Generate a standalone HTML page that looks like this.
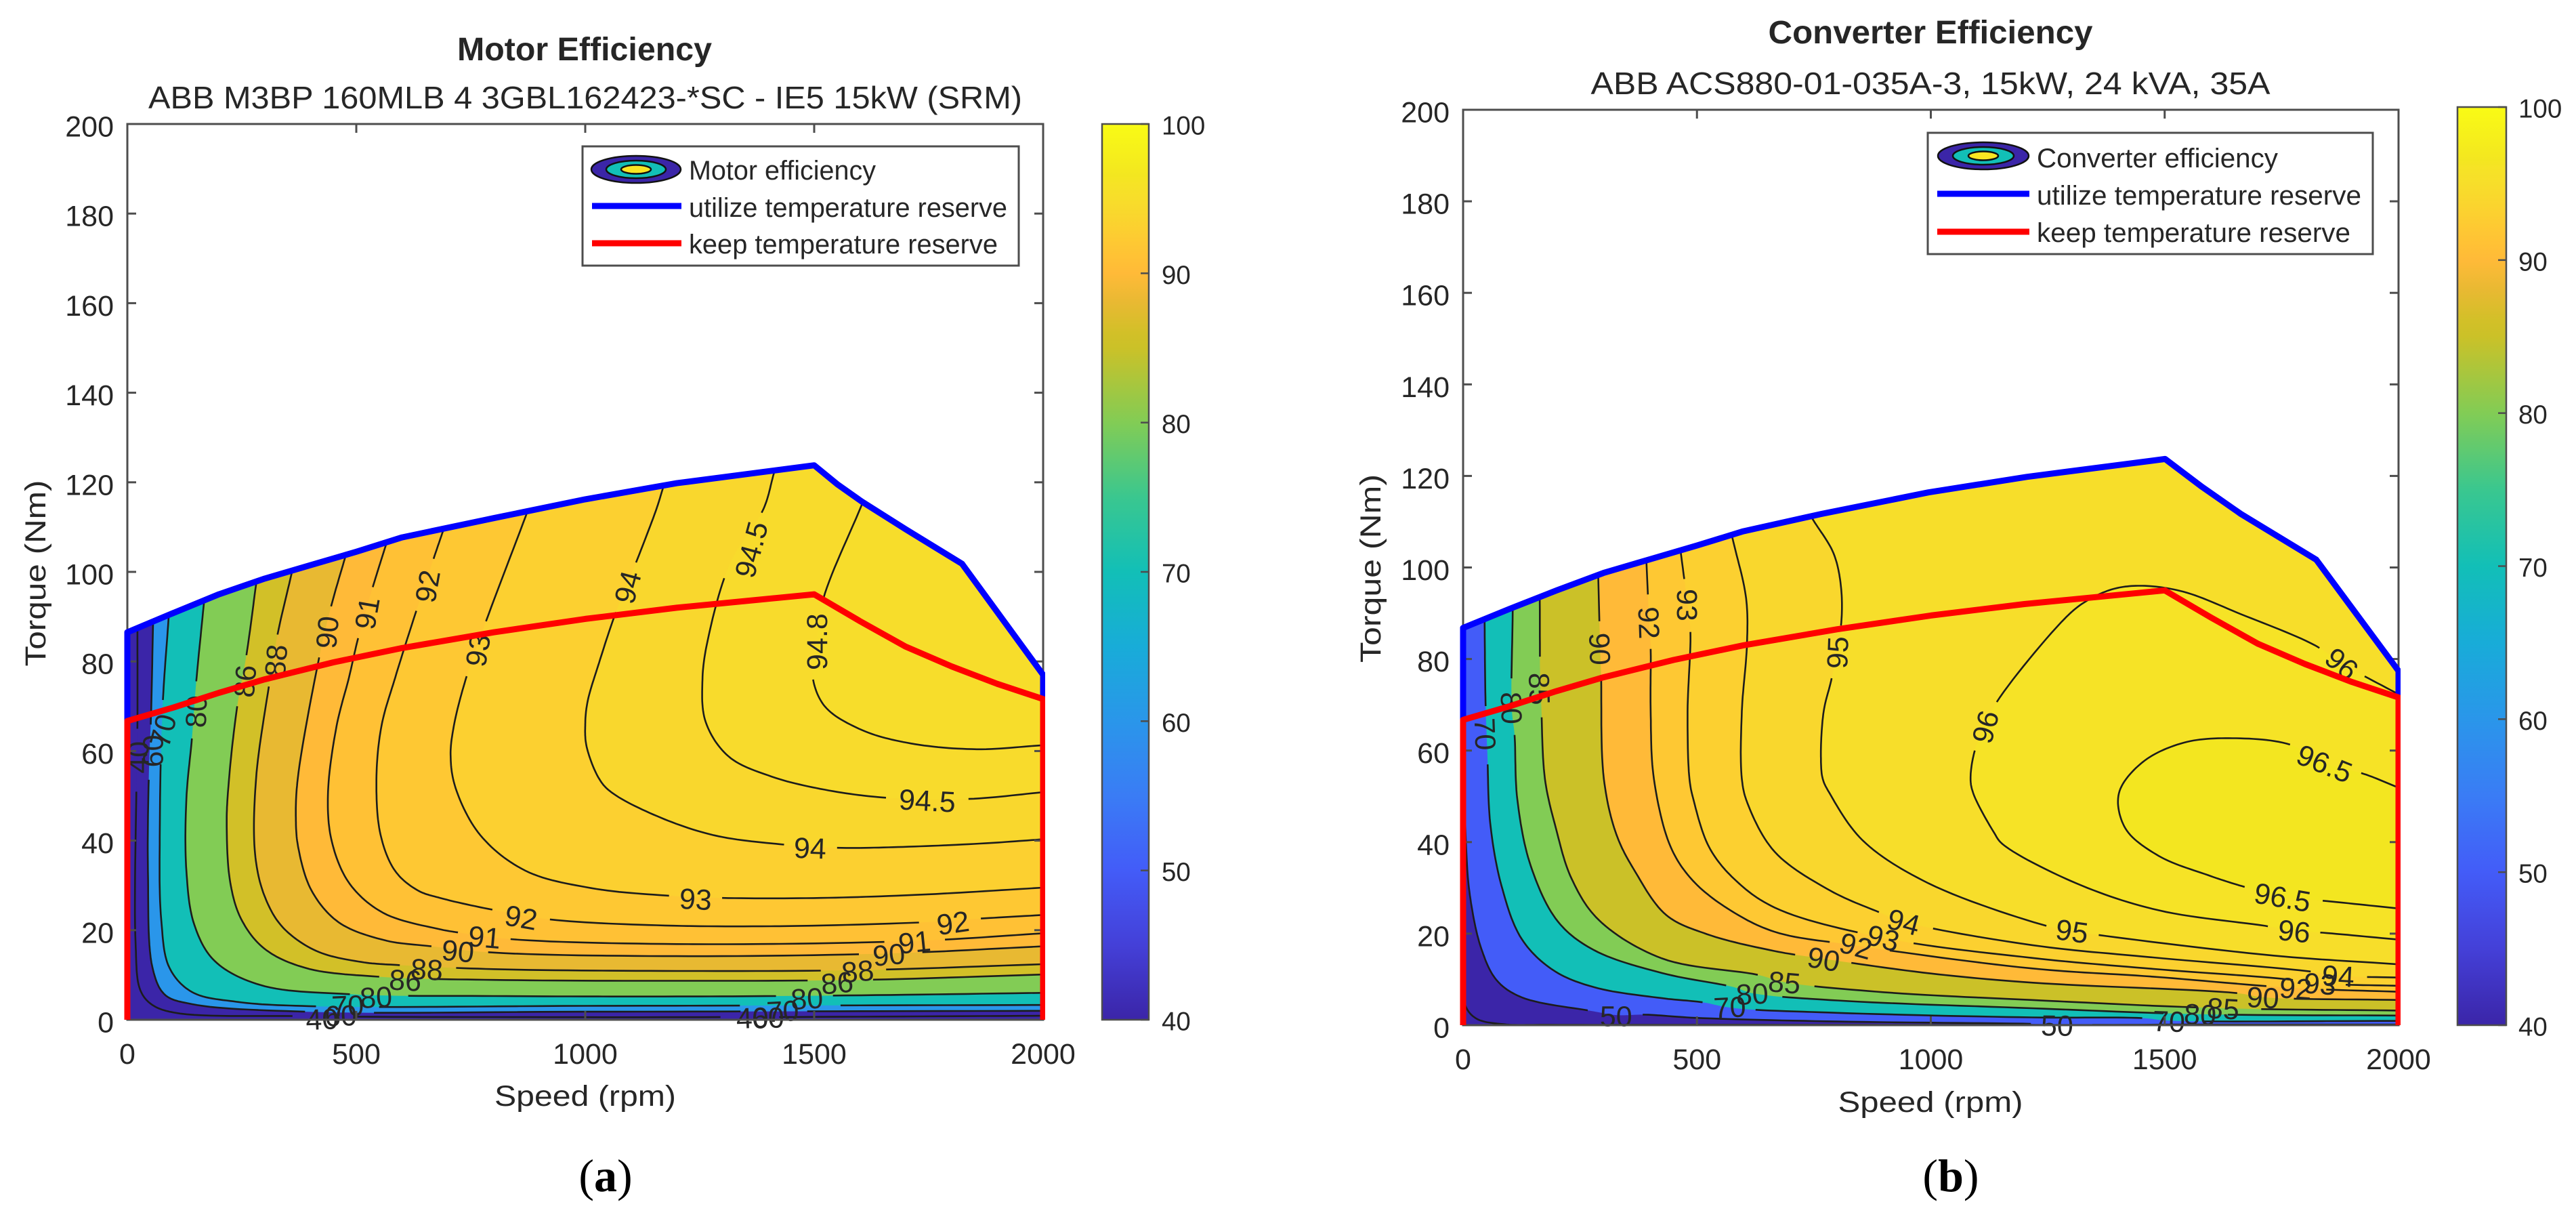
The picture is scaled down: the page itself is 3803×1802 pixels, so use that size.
<!DOCTYPE html>
<html lang="en">
<head>
<meta charset="utf-8">
<title>Motor and Converter Efficiency</title>
<style>
html,body{margin:0;padding:0;background:#fff;}
svg{display:block;}
text{font-family:"Liberation Sans",sans-serif;fill:#262626;}
.cap{font-family:"Liberation Serif",serif;fill:#000;}
</style>
</head>
<body>
<svg id="figure" xmlns="http://www.w3.org/2000/svg" width="3803" height="1802" viewBox="0 0 3803 1802">
  <rect x="0" y="0" width="3803" height="1802" fill="#fff"/>
  <defs id="defs"></defs>

  <text x="863" y="89" text-anchor="middle" font-size="48" font-weight="bold" fill="#000" textLength="376" lengthAdjust="spacingAndGlyphs">Motor Efficiency</text>
  <text x="864" y="160" text-anchor="middle" font-size="46" textLength="1290" lengthAdjust="spacingAndGlyphs">ABB M3BP 160MLB 4 3GBL162423-*SC - IE5 15kW (SRM)</text>
  <text x="2850" y="64" text-anchor="middle" font-size="48" font-weight="bold" fill="#000" textLength="479" lengthAdjust="spacingAndGlyphs">Converter Efficiency</text>
  <text x="2850" y="139" text-anchor="middle" font-size="46" textLength="1003" lengthAdjust="spacingAndGlyphs">ABB ACS880-01-035A-3, 15kW, 24 kVA, 35A</text>

  <g id="motor-chart"></g>
  <g id="converter-chart"></g>

  <text x="864" y="1632" text-anchor="middle" font-size="43" textLength="268" lengthAdjust="spacingAndGlyphs">Speed (rpm)</text>
  <text x="2850" y="1641" text-anchor="middle" font-size="43" textLength="273" lengthAdjust="spacingAndGlyphs">Speed (rpm)</text>
  <text transform="translate(67,846) rotate(-90)" text-anchor="middle" font-size="43" textLength="275" lengthAdjust="spacingAndGlyphs">Torque (Nm)</text>
  <text transform="translate(2038,839) rotate(-90)" text-anchor="middle" font-size="43" textLength="278" lengthAdjust="spacingAndGlyphs">Torque (Nm)</text>

  <g>
    <rect x="860" y="216" width="644" height="176" fill="#fff" stroke="#4d4d4d" stroke-width="3"/>
    <ellipse cx="939" cy="250" rx="66" ry="20" fill="#3b25a8" stroke="#111" stroke-width="2.5"/>
    <ellipse cx="939" cy="250" rx="44" ry="13" fill="#12bfb7" stroke="#111" stroke-width="2.5"/>
    <ellipse cx="939" cy="250" rx="22" ry="6.5" fill="#f9e622" stroke="#111" stroke-width="2.5"/>
    <text x="1017" y="265" font-size="40" textLength="276" lengthAdjust="spacingAndGlyphs">Motor efficiency</text>
    <line x1="874" y1="304" x2="1006" y2="304" stroke="#0000ff" stroke-width="9"/>
    <text x="1017" y="320" font-size="40" textLength="470" lengthAdjust="spacingAndGlyphs">utilize temperature reserve</text>
    <line x1="874" y1="359" x2="1006" y2="359" stroke="#ff0000" stroke-width="9"/>
    <text x="1017" y="374" font-size="40" textLength="456" lengthAdjust="spacingAndGlyphs">keep temperature reserve</text>
  </g>

  <g>
    <rect x="2846" y="196" width="657" height="179" fill="#fff" stroke="#4d4d4d" stroke-width="3"/>
    <ellipse cx="2928" cy="230" rx="67" ry="20" fill="#3b25a8" stroke="#111" stroke-width="2.5"/>
    <ellipse cx="2928" cy="230" rx="45" ry="13" fill="#12bfb7" stroke="#111" stroke-width="2.5"/>
    <ellipse cx="2928" cy="230" rx="22" ry="6.5" fill="#f9e622" stroke="#111" stroke-width="2.5"/>
    <text x="3007" y="247" font-size="40" textLength="356" lengthAdjust="spacingAndGlyphs">Converter efficiency</text>
    <line x1="2860" y1="286" x2="2996" y2="286" stroke="#0000ff" stroke-width="9"/>
    <text x="3007" y="302" font-size="40" textLength="479" lengthAdjust="spacingAndGlyphs">utilize temperature reserve</text>
    <line x1="2860" y1="342" x2="2996" y2="342" stroke="#ff0000" stroke-width="9"/>
    <text x="3007" y="357" font-size="40" textLength="463" lengthAdjust="spacingAndGlyphs">keep temperature reserve</text>
  </g>

  <text class="cap" x="894" y="1758" text-anchor="middle" font-size="68">(<tspan font-weight="bold">a</tspan>)</text>
  <text class="cap" x="2880" y="1758" text-anchor="middle" font-size="68">(<tspan font-weight="bold">b</tspan>)</text>
</svg>

<script>
// ---------- shared axis tick values ----------
const xTickValues = [0, 500, 1000, 1500, 2000];
const yTickValues = [0, 20, 40, 60, 80, 100, 120, 140, 160, 180, 200];
const colorbarTickValues = [40, 50, 60, 70, 80, 90, 100];

// ---------- colour scale ----------
const colorStopValues = [40, 45, 50, 55, 60, 65, 70, 75, 80, 85, 86, 88, 90, 91, 92, 93, 94, 95, 96, 96.5, 100];
const colorStopHexes = ['#3b25a8', '#4440d8', '#435cf8', '#3a7cf5', '#2a96ea', '#18acd8', '#12bfb7', '#3ac78f', '#82cc55', '#cbc128', '#d2c028', '#e8b932', '#ffba38', '#ffc135', '#fec833', '#fcd030', '#f9d72d', '#f7de2a', '#f6e326', '#f3e620', '#f9fb15'];

// ---------- motor efficiency data ----------
const motorLevels = [40, 60, 70, 80, 86, 88, 90, 91, 92, 93, 94, 94.5, 94.8];
const motorContourSpeeds = [
  [22, 22, 20, 18, 28, 52, 102, 383, 800, 1380, 2000],
  [56, 52, 47, 45, 55, 82, 141, 388, 1000, 2000],
  [90, 77, 71, 74, 92, 141, 240, 412, 1000, 2000],
  [166.5, 149.5, 141, 129, 129, 146, 190, 289, 486, 800, 1200, 1541, 2000],
  [281, 260, 240, 222, 217, 225, 249, 299, 388, 550, 800, 1200, 1600, 2000],
  [358, 328, 309, 281, 279, 299, 338, 412, 511, 595, 800, 1200, 1600, 2000],
  [475, 445, 419, 372, 368, 373, 402, 461, 560, 664, 800, 1200, 1660, 2000],
  [564, 536, 504, 484, 457, 438, 447, 486, 560, 683, 722, 837, 1200, 1720, 2000],
  [689, 667, 631, 585, 555, 544, 553, 585, 634, 683, 806, 923, 1156, 1425, 1747, 1864, 2000],
  [871, 778, 741, 713, 706, 717, 771, 869, 1013, 1183, 1299, 1514, 1747, 2000],
  [1170, 1156, 1111, 1067, 1028, 1005, 1000, 1003, 1031, 1057, 1156, 1281, 1425, 1550, 1694, 1873, 2000],
  [1412, 1389, 1317, 1268, 1256, 1263, 1313, 1407, 1532, 1667, 1837, 2000],
  [1604, 1520, 1505, 1496, 1523, 1604, 1711, 1855, 2000]
];
const motorContourTorques = [
  [88, 66, 53, 17, 6.7, 3.5, 1.6, 0.8, 0.6, 0.6, 0.9],
  [88, 69, 55, 33, 11.6, 5.6, 3.5, 1.8, 1.8, 2],
  [89.5, 69.9, 44, 22.4, 11.6, 6.2, 4, 3, 3.1, 3.3],
  [92.3, 74.4, 62.8, 49.4, 33.2, 21.3, 13.2, 7.8, 5.7, 5.3, 5.2, 5.4, 6],
  [97.1, 81.4, 70, 53.7, 44, 30.5, 22.4, 15.9, 11.6, 9.6, 8.9, 8.7, 8.9, 10.1],
  [99.3, 86, 74.4, 53.7, 37, 27.8, 20.8, 15.4, 12.9, 12.2, 11.3, 10.9, 11.1, 12.4],
  [103, 92.3, 80.9, 53.7, 45, 38.6, 28.9, 21.8, 17.8, 16.4, 15, 14.2, 14.8, 16.4],
  [105.8, 96.6, 85.2, 76.4, 65.6, 50, 39.6, 30.3, 23.8, 20.2, 19.5, 18, 16.9, 17.6, 19.3],
  [109, 102.4, 91.3, 76.4, 65.6, 53.7, 41.3, 33.2, 28.9, 27.2, 24.4, 22.4, 21.1, 20.9, 21.8, 22.6, 23.4],
  [112.7, 87.5, 76.7, 65.6, 58.8, 51.7, 41.2, 33.3, 29.4, 27.7, 27.2, 27.2, 28, 29.5],
  [118.8, 114.2, 102.1, 91, 79, 71, 66, 61, 53.7, 50.8, 45.5, 41.2, 39.2, 38.4, 38.6, 39.4, 40.3],
  [122, 114, 102.1, 85, 76, 66.5, 58.8, 54.3, 51.2, 49.5, 49.3, 50.8],
  [115, 94, 84.4, 77, 70, 64.7, 61.7, 60.4, 61.3]
];
const motorLabelValues = [40, 60, 70, 80, 86, 88, 90, 91, 92, 93, 94, 94.5, 94.8,
  40, 60, 70, 80, 86, 88, 90, 91, 92, 93, 94, 94.5,
  40, 60, 70, 80, 86, 88, 90, 91, 92];
const motorLabelSpeeds = [23, 55, 77, 149.5, 256, 324, 436, 523, 655, 765, 1092, 1362, 1505,
  425, 466, 481, 543, 607, 654, 722, 780, 860, 1241, 1491, 1747,
  1365, 1399, 1431, 1484, 1550, 1595, 1663, 1719, 1803];
const motorLabelTorques = [58.6, 60, 64.6, 68.8, 75.6, 80.2, 86.5, 90.8, 96.8, 82.5, 96.6, 105, 84.4,
  0.2, 1, 3.2, 5.1, 8.9, 11.3, 15.4, 18.5, 22.9, 27, 38.4, 49,
  0.5, 0.5, 2, 4.8, 8.3, 10.9, 14.6, 17.4, 21.7];
const motorLabelAngles = [-90, -90, -75, -88, -85, -85, -85, -80, -80, -80, -75, -75, -90,
  -2, -2, -2, -3, 3, 3, 5, 5, 10, 3, 2, 3,
  -2, -2, -3, -3, -5, -5, -5, -6, -8];
const motorUtilizeSpeeds = [0, 0, 100, 200, 300, 400, 500, 600, 800, 1000, 1200, 1500, 1550, 1604, 1700, 1823, 2000, 2000];
const motorUtilizeTorques = [66.7, 86.5, 90.8, 95, 98.5, 101.5, 104.5, 107.7, 112, 116.2, 119.8, 123.8, 119.6, 115.7, 109.5, 101.8, 77, 71.5];
const motorKeepSpeeds = [0, 0, 100, 200, 300, 450, 600, 800, 1000, 1200, 1500, 1600, 1700, 1800, 1900, 2000, 2000];
const motorKeepTorques = [0, 66.7, 69.7, 73, 76, 79.8, 83, 86.5, 89.5, 92, 95, 89, 83.3, 78.9, 75, 71.6, 0];

// ---------- converter efficiency data ----------
const converterLevels = [40, 50, 70, 80, 85, 90, 92, 93, 94, 95, 96, 96.5];
const converterContourSpeeds = [
  [1, 6, 29, 87, 183, 600, 1200, 2000],
  [1, 6, 14.5, 39, 72, 125, 275, 328, 389, 497, 800, 1214, 1272, 1600, 2000],
  [46, 48, 52, 58, 82, 125.5, 193, 280, 425, 512, 573, 800, 1216, 1452, 1509, 2000],
  [106, 104, 110, 116, 145, 203, 280, 425, 579, 618, 800, 1216, 1576, 2000],
  [164, 165, 167, 175, 198, 232, 290, 425, 630, 687, 900, 1216, 1625, 2000],
  [289, 293, 295, 301, 328, 367, 434, 521, 666, 771, 1000, 1216, 1655, 1710, 2000],
  [392, 398, 401, 401, 408, 444, 492, 570, 666, 840, 1216, 1475, 1780, 2000],
  [467, 480, 486, 480, 484, 492, 526, 579, 666, 898, 1216, 1475, 1755, 1832, 2000],
  [576, 605, 607, 596, 596, 608, 666, 785, 889, 942, 1216, 1475, 1806, 1871, 2000],
  [749, 792, 808, 808, 788, 771, 765, 769, 784, 854, 995, 1247, 1302, 1359, 1733, 2000],
  [2000, 1879, 1821, 1663, 1540, 1452, 1390, 1330, 1286, 1141, 1116, 1094, 1085, 1091, 1135, 1153, 1311, 1487, 1715, 1777, 1838, 2000],
  [2000, 1926, 1842, 1768, 1645, 1540, 1452, 1402, 1416, 1487, 1592, 1671, 1750, 1838, 2000]
];
const converterContourTorques = [
  [9, 4, 1.4, 0.2, 0.1, 0.1, 0.05, 0],
  [66, 40, 28.4, 16.7, 9.8, 6.1, 3.1, 2.2, 2.3, 1.6, 0.8, 0.3, 0.1, 0.15, 0.15],
  [87.6, 70.6, 59, 44.2, 30.5, 18.8, 12, 8.3, 5.9, 5, 3.8, 2.7, 1.7, 1.55, 1, 0.93],
  [90, 69.3, 63.4, 49.3, 34.7, 22.6, 16.4, 11.4, 8.3, 7, 5.4, 3.7, 2.4, 2.1],
  [92.3, 73.5, 70, 53.8, 43.2, 32, 23, 14.6, 11, 9.4, 7.2, 5.5, 3.7, 3.2],
  [97.5, 82.2, 76.5, 53.8, 41.6, 33.7, 24.1, 19.9, 16.2, 14.5, 11.3, 9.3, 7, 6.1, 5.5],
  [101, 87.9, 82.2, 68.6, 53.8, 38.9, 31.5, 25.2, 20.4, 17.4, 12.4, 10.6, 8.1, 7.3],
  [102, 91.8, 85.9, 68.6, 53.8, 49.5, 38.9, 32, 25.7, 19.1, 14.7, 12.3, 10.1, 9.1, 8.6],
  [106.4, 93.3, 83.4, 68.6, 53.8, 48.5, 37.9, 29.4, 24.7, 22.6, 17.5, 14.8, 11.8, 10.8, 10.4],
  [110.3, 103.1, 95.7, 87.3, 75.8, 68.6, 58.7, 53.8, 50.6, 40.4, 31, 21.7, 20.6, 19.7, 15.2, 13.3],
  [72.3, 79, 83, 89.8, 94.7, 96, 95.3, 92.5, 88.8, 70.6, 65.2, 60, 53.8, 50.6, 42.1, 39.6, 31, 25.1, 21.7, 20.6, 20.2, 18.7],
  [51.9, 54.9, 57.2, 61.3, 62.7, 61.7, 57.4, 50.6, 43, 37, 32.8, 30.2, 28, 27.2, 25.5]
];
const converterLabelValues = [70, 80, 85, 90, 92, 93, 95, 96, 50, 70, 80, 85, 90, 92, 93, 94,
  96.5, 96.5, 96, 96, 95, 94, 93, 92, 90, 85, 80, 70, 50];
const converterLabelSpeeds = [48, 104, 164, 293, 398, 480, 800, 1116, 327, 570, 618, 687, 771, 840, 898, 942,
  1752, 1842, 1777, 1879, 1302, 1871, 1832, 1780, 1710, 1625, 1576, 1509, 1270];
const converterLabelTorques = [63.6, 69.3, 73.5, 82.2, 87.9, 91.8, 81.4, 65.2, 2.1, 4, 6.9, 9.4, 14.5, 17.4, 19.1, 22.6,
  28, 57.2, 20.6, 79, 20.6, 10.8, 9.1, 8.1, 6.1, 3.7, 2.4, 0.9, 0];
const converterLabelAngles = [88, 88, 88, 88, 88, 90, -88, -75, 0, -3, -3, 5, 10, 15, 15, 15,
  10, 22, 6, 40, 8, 3, 4, 4, 3, 3, 3, 2, 1];
const converterUtilizeSpeeds = [0, 0, 98, 200, 300, 400, 500, 599, 766, 995, 1205, 1501, 1580, 1663, 1824, 2000, 2000];
const converterUtilizeTorques = [66.7, 86.8, 90.9, 95, 98.8, 101.8, 104.8, 107.9, 111.7, 116.4, 119.8, 123.7, 117.6, 111.7, 101.7, 77.4, 71.5];
const converterKeepSpeeds = [0, 0, 100, 200, 300, 450, 600, 800, 1000, 1200, 1500, 1600, 1700, 1800, 1900, 2000, 2000];
const converterKeepTorques = [0, 66.7, 69.7, 73, 76, 79.8, 83, 86.5, 89.5, 92, 95, 89, 83.3, 78.9, 75, 71.6, 0];

// ---------- rendering ----------
const SVG_NS = 'http://www.w3.org/2000/svg';
const defsEl = document.getElementById('defs');

function mk(tag, attrs, parent) {
  const e = document.createElementNS(SVG_NS, tag);
  for (const k in attrs) e.setAttribute(k, attrs[k]);
  parent.appendChild(e);
  return e;
}
function hexRgb(h) {
  return [parseInt(h.substr(1, 2), 16), parseInt(h.substr(3, 2), 16), parseInt(h.substr(5, 2), 16)];
}
function colorAt(v) {
  if (v <= colorStopValues[0]) return colorStopHexes[0];
  for (let i = 1; i < colorStopValues.length; i++) {
    if (v <= colorStopValues[i]) {
      const t = (v - colorStopValues[i - 1]) / (colorStopValues[i] - colorStopValues[i - 1]);
      const a = hexRgb(colorStopHexes[i - 1]);
      const b = hexRgb(colorStopHexes[i]);
      return 'rgb(' + a.map((c, j) => Math.round(c + (b[j] - c) * t)).join(',') + ')';
    }
  }
  return colorStopHexes[colorStopHexes.length - 1];
}
// centripetal Catmull-Rom through pixel-space points
function smooth(pts) {
  if (pts.length < 3) return pts.slice();
  const n = pts.length;
  const P = [[2 * pts[0][0] - pts[1][0], 2 * pts[0][1] - pts[1][1]]].concat(pts, [[2 * pts[n - 1][0] - pts[n - 2][0], 2 * pts[n - 1][1] - pts[n - 2][1]]]);
  const out = [];
  const step = (a, b) => Math.max(1e-3, Math.sqrt(Math.hypot(b[0] - a[0], b[1] - a[1])));
  const lerp = (a, b, ta, tb, t) => [a[0] + (b[0] - a[0]) * (t - ta) / (tb - ta), a[1] + (b[1] - a[1]) * (t - ta) / (tb - ta)];
  for (let i = 1; i < P.length - 2; i++) {
    const p0 = P[i - 1], p1 = P[i], p2 = P[i + 1], p3 = P[i + 2];
    const t0 = 0, t1 = t0 + step(p0, p1), t2 = t1 + step(p1, p2), t3 = t2 + step(p2, p3);
    for (let s = 0; s < 14; s++) {
      const t = t1 + (t2 - t1) * s / 14;
      const a1 = lerp(p0, p1, t0, t1, t), a2 = lerp(p1, p2, t1, t2, t), a3 = lerp(p2, p3, t2, t3, t);
      const b1 = lerp(a1, a2, t0, t2, t), b2 = lerp(a2, a3, t1, t3, t);
      out.push(lerp(b1, b2, t1, t2, t));
    }
  }
  out.push(pts[n - 1]);
  return out;
}
function toPath(pts) {
  return 'M' + pts.map(p => p[0].toFixed(1) + ' ' + p[1].toFixed(1)).join('L');
}
function extend(pts, len) {
  const a = pts[0], b = pts[Math.min(3, pts.length - 1)];
  const c = pts[pts.length - 1], d = pts[Math.max(0, pts.length - 4)];
  const la = Math.hypot(a[0] - b[0], a[1] - b[1]) || 1;
  const lc = Math.hypot(c[0] - d[0], c[1] - d[1]) || 1;
  return [[a[0] + (a[0] - b[0]) / la * len, a[1] + (a[1] - b[1]) / la * len]].concat(pts, [[c[0] + (c[0] - d[0]) / lc * len, c[1] + (c[1] - d[1]) / lc * len]]);
}

function drawChart(cfg) {
  const root = document.getElementById(cfg.rootId);
  const x = v => cfg.left + v / 2000 * (cfg.right - cfg.left);
  const y = v => cfg.bottom - v / 200 * (cfg.bottom - cfg.top);
  const cy = v => cfg.cbBottom - (v - 40) / 60 * (cfg.cbBottom - cfg.cbTickTop);

  // clip to the operating envelope
  const clipId = cfg.prefix + '-envelope';
  const clip = mk('clipPath', { id: clipId }, defsEl);
  const env = [[x(0), y(0)]];
  cfg.utilizeSpeeds.forEach((s, i) => env.push([x(s), y(cfg.utilizeTorques[i])]));
  env.push([x(2000), y(0)]);
  mk('path', { d: toPath(env) + 'Z' }, clip);
  const lineClipId = cfg.prefix + '-line-clip';
  const lineClip = mk('clipPath', { id: lineClipId }, defsEl);
  mk('rect', { x: cfg.left - 5, y: cfg.top, width: cfg.right - cfg.left + 8, height: cfg.bottom - cfg.top + 2 }, lineClip);

  // filled contour bands
  const fillGroup = mk('g', { 'clip-path': 'url(#' + clipId + ')' }, root);
  
  
  const base = mk('path', { d: toPath(env) + 'Z', fill: colorAt(cfg.levels[0]) }, fillGroup);
  
  

  const dense = cfg.levels.map((lv, i) => smooth(cfg.speeds[i].map((s, j) => [x(s), y(cfg.torques[i][j])])));
  cfg.levels.forEach((lv, i) => {
    const pts = extend(dense[i], 30);
    const first = pts[0], last = pts[pts.length - 1];
    const startsAtRight = cfg.speeds[i][0] >= 1900;
    let poly = pts.slice();
    if (!startsAtRight) {
      poly.push([cfg.right + 80, last[1]], [cfg.right + 80, cfg.top - 50], [first[0], cfg.top - 50]);
    } else {
      poly.push([cfg.right + 80, last[1]], [cfg.right + 80, first[1]]);
    }
    const band = mk('path', { d: toPath(poly) + 'Z', fill: colorAt(lv) }, fillGroup);
    
    
  });

  // contour lines, broken around their labels
  const lineGroup = mk('g', { 'clip-path': 'url(#' + clipId + ')', fill: 'none', stroke: '#1c1c1c', 'stroke-width': 2.6 }, root);
  
  
  const labelPx = cfg.labelValues.map((v, i) => ({ v: v, px: x(cfg.labelSpeeds[i]), py: y(cfg.labelTorques[i]), r: String(v).length > 2 ? 55 : 38 }));
  cfg.levels.forEach((lv, i) => {
    const mine = labelPx.filter(l => l.v === lv);
    const pieces = [];
    let cur = [];
    extend(dense[i], 20).forEach(p => {
      const hidden = mine.some(l => Math.hypot(p[0] - l.px, p[1] - l.py) < l.r);
      if (hidden) {
        if (cur.length > 1) pieces.push(cur);
        cur = [];
      } else {
        cur.push(p);
      }
    });
    if (cur.length > 1) pieces.push(cur);
    const line = mk('path', { d: pieces.map(toPath).join(' ') }, lineGroup);
    
    
  });

  // contour labels
  const labelGroup = mk('g', { 'font-size': 43, 'text-anchor': 'middle' }, root);
  
  
  labelPx.forEach((l, i) => {
    const t = mk('text', { transform: 'translate(' + l.px.toFixed(1) + ',' + l.py.toFixed(1) + ') rotate(' + cfg.labelAngles[i] + ')', dy: '0.36em' }, labelGroup);
    t.textContent = String(l.v);
    
    
  });

  // axes box and ticks
  const axis = mk('g', { stroke: '#4d4d4d', 'stroke-width': 3, fill: 'none' }, root);
  
  
  const box = mk('rect', { x: cfg.left, y: cfg.top, width: cfg.right - cfg.left, height: cfg.bottom - cfg.top }, axis);
  
  
  xTickValues.forEach(v => {
    const b = mk('line', { x1: x(v), x2: x(v), y1: cfg.bottom, y2: cfg.bottom - 13 }, axis);
    
    
    const t = mk('line', { x1: x(v), x2: x(v), y1: cfg.top, y2: cfg.top + 13 }, axis);
    
    
    const lab = mk('text', { x: x(v), y: cfg.xTickBaseline, 'text-anchor': 'middle', 'font-size': 43, stroke: 'none' }, root);
    lab.textContent = String(v);
    
    
  });
  yTickValues.forEach(v => {
    const l = mk('line', { x1: cfg.left, x2: cfg.left + 13, y1: y(v), y2: y(v) }, axis);
    
    
    const r = mk('line', { x1: cfg.right, x2: cfg.right - 13, y1: y(v), y2: y(v) }, axis);
    
    
    const lab = mk('text', { x: cfg.left - 20, y: y(v) + 18.5, 'text-anchor': 'end', 'font-size': 43 }, root);
    lab.textContent = String(v);
    
    
  });

  // boundary curves
  const utilize = mk('path', {
    d: toPath(cfg.utilizeSpeeds.map((s, i) => [x(s), y(cfg.utilizeTorques[i])])),
    fill: 'none', stroke: '#0000ff', 'stroke-width': 9, 'stroke-linejoin': 'round', 'clip-path': 'url(#' + lineClipId + ')'
  }, root);
  
  
  const keep = mk('path', {
    d: toPath(cfg.keepSpeeds.map((s, i) => [x(s), y(cfg.keepTorques[i])])),
    fill: 'none', stroke: '#ff0000', 'stroke-width': 9, 'stroke-linejoin': 'round', 'clip-path': 'url(#' + lineClipId + ')'
  }, root);
  
  

  // colour bar
  const gradId = cfg.prefix + '-cbar-grad';
  const grad = mk('linearGradient', { id: gradId, x1: 0, y1: 1, x2: 0, y2: 0 }, defsEl);
  colorStopValues.forEach((v, i) => {
    mk('stop', { offset: ((v - 40) / 60).toFixed(4), 'stop-color': colorStopHexes[i] }, grad);
  });
  const bar = mk('rect', { x: cfg.cbLeft, y: cy(100), width: cfg.cbRight - cfg.cbLeft, height: cfg.cbBottom - cy(100), fill: 'url(#' + gradId + ')', stroke: '#4d4d4d', 'stroke-width': 2.5 }, root);
  
  
  colorbarTickValues.forEach(v => {
    const tick = mk('line', { x1: cfg.cbRight, x2: cfg.cbRight - 12, y1: cy(v), y2: cy(v), stroke: '#4d4d4d', 'stroke-width': 2.5 }, root);
    
    
    const lab = mk('text', { x: cfg.cbLabelX, y: cy(v) + 15.5, 'font-size': 38.5 }, root);
    lab.textContent = String(v);
    
    
  });
}

drawChart({
  rootId: 'motor-chart', prefix: 'motor',
  left: 188, right: 1540, top: 183, bottom: 1505, xTickBaseline: 1570,
  cbLeft: 1627, cbRight: 1696, cbBottom: 1505, cbTickTop: 183, cbLabelX: 1715,
  levels: motorLevels, speeds: motorContourSpeeds, torques: motorContourTorques,
  labelValues: motorLabelValues, labelSpeeds: motorLabelSpeeds, labelTorques: motorLabelTorques, labelAngles: motorLabelAngles,
  utilizeSpeeds: motorUtilizeSpeeds, utilizeTorques: motorUtilizeTorques,
  keepSpeeds: motorKeepSpeeds, keepTorques: motorKeepTorques
});
drawChart({
  rootId: 'converter-chart', prefix: 'converter',
  left: 2160, right: 3541, top: 162, bottom: 1513, xTickBaseline: 1578,
  cbLeft: 3628, cbRight: 3700, cbBottom: 1513, cbTickTop: 158, cbLabelX: 3718,
  levels: converterLevels, speeds: converterContourSpeeds, torques: converterContourTorques,
  labelValues: converterLabelValues, labelSpeeds: converterLabelSpeeds, labelTorques: converterLabelTorques, labelAngles: converterLabelAngles,
  utilizeSpeeds: converterUtilizeSpeeds, utilizeTorques: converterUtilizeTorques,
  keepSpeeds: converterKeepSpeeds, keepTorques: converterKeepTorques
});
</script>
</body>
</html>
